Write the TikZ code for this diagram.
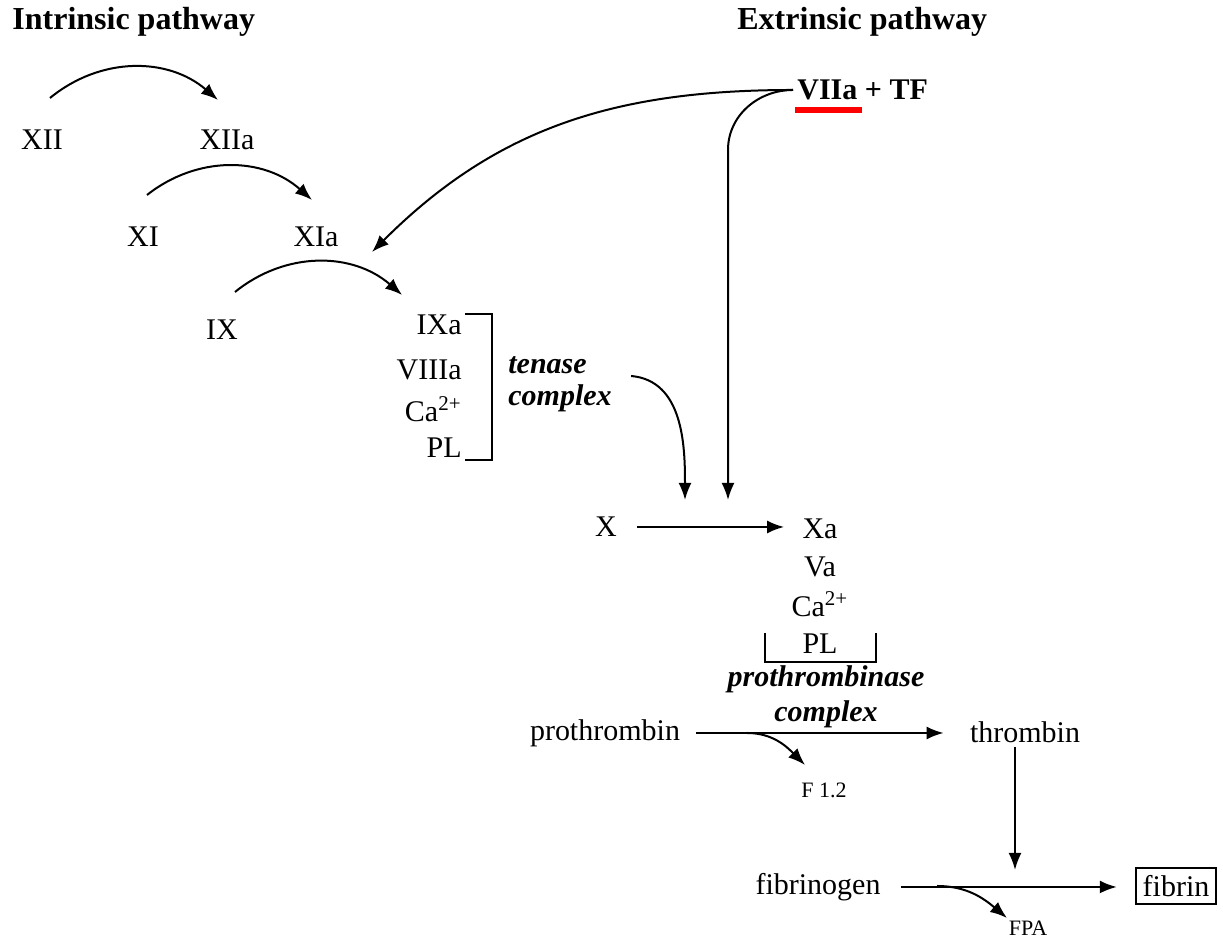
\documentclass[tikz,border=0pt]{standalone}
\usepackage{fontspec}
\setmainfont{Liberation Serif}
\usetikzlibrary{arrows.meta}

\begin{document}
\begin{tikzpicture}[x=0.5pt, y=0.5pt, font=\fontsize{15}{16}\selectfont,
    arr/.style={-{Latex[length=8.5pt, width=6.5pt]}, line width=1pt},
    factor/.style={inner sep=2pt},
    frag/.style={font=\fontsize{11}{12}\selectfont, inner sep=1pt},
    cplx/.style={font=\fontsize{15}{16}\selectfont\bfseries\itshape, inner sep=1pt},
    head/.style={anchor=west, inner sep=1pt, font=\fontsize{16}{18}\selectfont\bfseries}]
    \useasboundingbox (0,0) rectangle (1223,940);

    % Headings
    \node[head] (intr) at (10,918) {Intrinsic pathway};
    \node[head] (extr) at (735,918) {Extrinsic pathway};

    % Intrinsic cascade
    \node[factor] (xii) at (42,800) {XII};
    \node[factor] (xiia) at (227,800) {XIIa};
    \node[factor] (xi) at (143,703) {XI};
    \node[factor] (xia) at (316,703) {XIa};
    \node[factor] (ix) at (222,610) {IX};

    % Tenase complex
    \node[factor, anchor=east] (ixa) at (466,615) {IXa};
    \node[factor, anchor=east] (viiia) at (466,570) {VIIIa};
    \node[factor, anchor=east] (caix) at (466,531) {Ca\textsuperscript{2+}};
    \node[factor, anchor=east] (plix) at (466,492) {PL};
    \draw[line width=1pt] (465,626) -- (492,626) -- (492,480) -- (465,480);
    \node[cplx, anchor=west, align=left] (tenase) at (506,556) {tenase\\complex};

    % Extrinsic start
    \node[factor, anchor=west, font=\fontsize{15}{16}\selectfont\bfseries] (vii) at (793,850) {VIIa + TF};
    \fill[red] (795,827) rectangle (862,833);

    % Common pathway
    \node[factor] (x) at (606,413) {X};
    \node[factor] (xa) at (820,411) {Xa};
    \node[factor] (va) at (820,373) {Va};
    \node[factor] (cax) at (820,336) {Ca\textsuperscript{2+}};
    \node[factor] (plx) at (820,296) {PL};
    \draw[line width=1pt] (765,307) -- (765,278) -- (876,278) -- (876,307);
    \node[cplx, align=center, font=\fontsize{15}{17.5}\selectfont\bfseries\itshape] (prot) at (826,243) {prothrombinase\\complex};

    \node[factor] (pthr) at (605,207) {prothrombin};
    \node[factor] (thr) at (1025,208) {thrombin};
    \node[frag] (f12) at (824,150) {F 1.2};
    \node[factor] (fbg) at (818,53) {fibrinogen};
    \node[draw, line width=0.9pt, inner sep=3.5pt] (fib) at (1176,54) {fibrin};
    \node[frag] (fpa) at (1028,12) {FPA};

    % Free ends on the X arrow and the fibrin arrow
    \coordinate (tenin) at (685,440);
    \coordinate (viiin) at (728,440);
    \coordinate (thrin) at (1015,70);
    \coordinate (pcut) at (747,207);
    \coordinate (fcut) at (937,54);

    % Activation arcs
    \draw[arr] ([shift={(8,42)}]xii.center) to[bend left=40] ([shift={(-9,40)}]xiia.center);
    \draw[arr] ([shift={(4,42)}]xi.center) to[bend left=40] ([shift={(-4,37)}]xia.center);
    \draw[arr] ([shift={(13,38)}]ix.center) to[bend left=40] ([shift={(-37,30)}]ixa.center);

    % From VIIa + TF
    \draw[arr] (vii.west) to[out=180, in=45] ([shift={(56,-15)}]xia.center);
    \draw[arr] (vii.west) to[out=180, in=90] (728,790) -- (viiin);
    \draw[arr] ([shift={(17,8)}]tenase.east) to[out=-5, in=90] (tenin);

    % Conversions
    \draw[arr, shorten <=8pt, shorten >=7pt] (x.east) -- (x.east -| xa.west);
    \draw[arr, shorten <=6pt, shorten >=11pt] (pthr.east) -- (pthr.east -| thr.west);
    \draw[arr] (pcut) to[out=0, in=135] ([shift={(-19,25)}]f12.center);
    \draw[arr] ([xshift=-5pt]thr.south) -- (thrin);
    \draw[arr, shorten <=8pt, shorten >=9pt] (fbg.east) -- (fbg.east -| fib.west);
    \draw[arr] (fcut) to[out=0, in=140] ([shift={(-21,10)}]fpa.center);
\end{tikzpicture}
\end{document}
